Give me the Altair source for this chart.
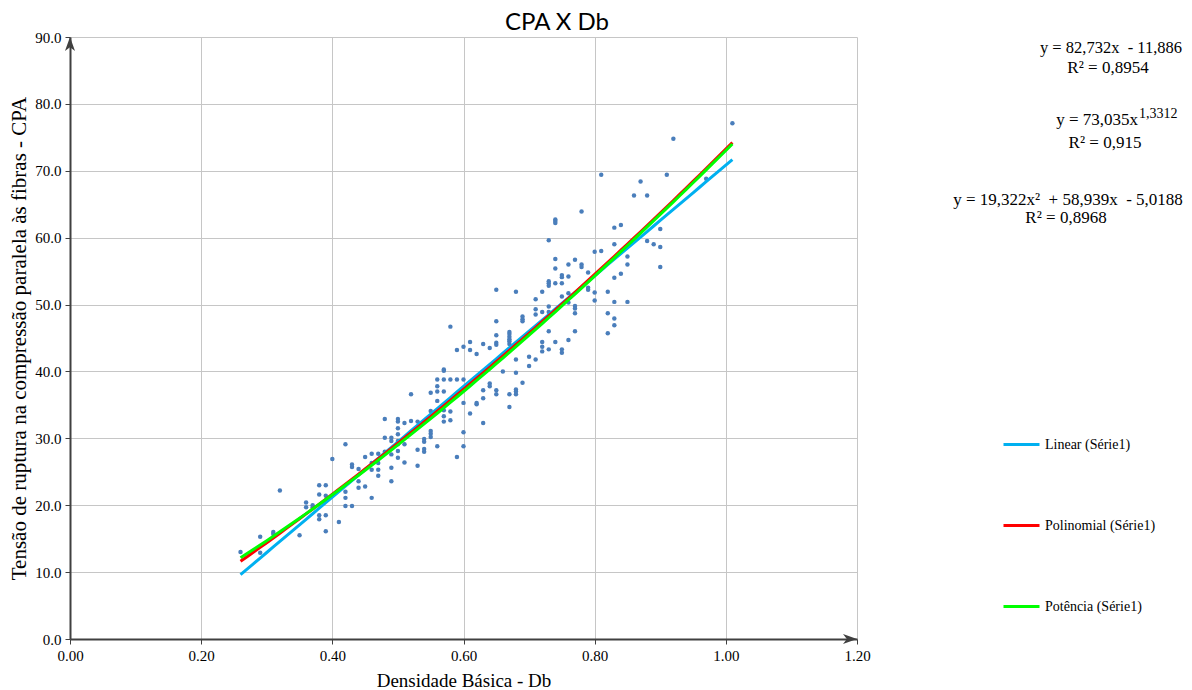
import altair as alt
import pandas as pd
import numpy as np

# ---------------- data ----------------
db_levels = [0.26, 0.29, 0.31, 0.32, 0.35, 0.36, 0.37, 0.38, 0.39, 0.40,
             0.41, 0.42, 0.43, 0.44, 0.45, 0.46, 0.47, 0.48, 0.49, 0.50,
             0.51, 0.52, 0.53, 0.54, 0.55, 0.56, 0.57, 0.58, 0.59, 0.60,
             0.61, 0.62, 0.63, 0.64, 0.65, 0.66, 0.67, 0.68, 0.69, 0.70,
             0.71, 0.72, 0.73, 0.74, 0.75, 0.76, 0.77, 0.78, 0.79, 0.80,
             0.81, 0.82, 0.83, 0.84, 0.85, 0.86, 0.87, 0.88, 0.89, 0.90,
             0.91, 0.92, 0.97, 1.01]

cpa_groups = [
    [13.0],
    [15.3, 12.9],
    [16.0, 15.7],
    [22.2],
    [15.5],
    [20.4, 19.7],
    [20.0, 19.7],
    [23.0, 21.6, 18.5, 17.9],
    [23.0, 21.4, 18.5, 16.1],
    [26.9],
    [17.5],
    [29.1, 22.0, 21.1, 19.9],
    [26.1, 25.7, 19.9],
    [25.4, 23.6, 22.6],
    [27.2, 22.8],
    [27.7, 26.3, 25.3, 21.1],
    [27.7, 26.3, 25.3, 24.4],
    [32.9, 30.1, 28.0],
    [30.1, 29.6, 27.6, 25.6, 23.6],
    [32.9, 32.5, 31.5, 30.6, 29.6, 29.1, 28.1, 27.1],
    [32.3, 29.1, 26.4],
    [36.6, 32.6],
    [32.5, 28.3, 25.9],
    [29.9, 29.5, 28.4, 28.0],
    [36.8, 34.1, 31.1, 30.7, 30.2],
    [38.8, 37.8, 37.0, 35.6, 28.8],
    [40.3, 40.1, 38.8, 37.0, 34.2, 33.3, 32.5],
    [46.7, 38.8, 34.0, 32.7],
    [43.2, 38.8, 27.2],
    [43.7, 38.8, 35.3, 30.9, 28.8],
    [44.4, 43.2, 33.7],
    [42.6, 35.3, 35.1],
    [44.1, 37.2, 36.0, 32.3],
    [43.5, 38.2, 37.8],
    [52.2, 47.5, 45.4, 44.3, 44.0, 37.2, 36.6],
    [40.0],
    [45.9, 45.6, 45.2, 44.8, 44.5, 44.1, 36.6, 34.7],
    [51.9, 41.8, 39.8, 37.3, 37.0, 36.6],
    [48.2, 47.8, 47.5, 38.3],
    [42.2, 40.8],
    [50.8, 49.3, 48.5, 41.8],
    [51.9, 48.9, 44.4, 43.7, 43.0],
    [59.6, 53.5, 53.2, 52.8, 49.7, 48.9, 46.0, 43.3],
    [62.7, 62.5, 62.2, 56.8, 55.4, 53.2, 44.4],
    [54.4, 54.1, 53.2, 51.2, 43.3, 42.8],
    [56.0, 54.2, 51.7, 50.3, 44.7],
    [56.7, 49.8, 49.4, 48.7, 46.0],
    [63.9, 56.0, 55.6],
    [54.8, 52.5, 52.2],
    [57.9, 51.8, 50.6],
    [69.4, 58.0],
    [51.9, 48.7, 45.7],
    [61.5, 59.0, 54.0, 50.4, 47.9, 46.9],
    [61.9, 54.6],
    [57.2, 56.0, 50.4],
    [66.3],
    [68.4],
    [66.3, 59.5],
    [59.0],
    [61.3, 58.6, 55.6],
    [69.4],
    [74.8],
    [68.8],
    [77.1],
]

series_names = ["Linear (Série1)", "Polinomial (Série1)", "Potência (Série1)"]
series_colors = ["#00B0F0", "#FF0000", "#00FF00"]

lin_coef = (82.732, -11.886)            # y = a x + b
poly_coef = (19.322, 58.939, -5.0188)   # y = a x^2 + b x + c
pow_coef = (73.035, 1.3312)             # y = a x^b
trend_x = [round(v, 2) for v in np.arange(0.26, 1.0101, 0.01)]

x_ticks = [0.0, 0.2, 0.4, 0.6, 0.8, 1.0, 1.2]
y_ticks = [0, 10, 20, 30, 40, 50, 60, 70, 80, 90]

title_text = "CPA X Db"
x_title = "Densidade Básica - Db"
y_title = "Tensão de ruptura na compressão paralela às fibras - CPA"

eq_lin = "y = 82,732x\u00a0 - 11,886"
r2_lin = "R² = 0,8954"
eq_pow_base = "y = 73,035x"
eq_pow_exp = "1,3312"
r2_pow = "R² = 0,915"
eq_poly = "y = 19,322x²\u00a0 + 58,939x\u00a0 - 5,0188"
r2_poly = "R² = 0,8968"

# ---------------- tables ----------------
scatter_df = pd.DataFrame(
    [{"Db": x, "CPA": y} for x, ys in zip(db_levels, cpa_groups) for y in ys]
)
tx = np.array(trend_x)
lin_df = pd.DataFrame({"Db": tx, "CPA": lin_coef[0] * tx + lin_coef[1], "serie": series_names[0]})
poly_df = pd.DataFrame({"Db": tx, "CPA": poly_coef[0] * tx ** 2 + poly_coef[1] * tx + poly_coef[2], "serie": series_names[1]})
pow_df = pd.DataFrame({"Db": tx, "CPA": pow_coef[0] * tx ** pow_coef[1], "serie": series_names[2]})

SERIF = "Liberation Serif"
W, H = 787, 602

xscale = alt.Scale(domain=[0, 1.2], nice=False, zero=False)
yscale = alt.Scale(domain=[0, 90], nice=False)

x_axis = alt.Axis(values=x_ticks, format=".2f", title=x_title, labelFlush=False,
                  labelOverlap=False, tickSize=5, labelPadding=4, titlePadding=8,
                  labelFontSize=15, titleFontSize=19)
y_axis = alt.Axis(values=y_ticks, format=".1f", title=y_title, labelFlush=False,
                  labelOverlap=False, tickSize=5, labelPadding=4, titlePadding=5,
                  labelFontSize=15, titleFontSize=21)

color_scale = alt.Scale(domain=series_names, range=series_colors)
legend = alt.Legend(title=None, orient="none", legendX=932, legendY=388,
                    symbolType="stroke", symbolSize=1296, symbolStrokeWidth=3,
                    labelFont=SERIF, labelFontSize=14, labelColor="black",
                    rowPadding=54, labelOffset=4, padding=0)

points = alt.Chart(scatter_df).mark_circle(size=20, color="#4A7EBB", opacity=1).encode(
    x=alt.X("Db:Q", scale=xscale, axis=x_axis),
    y=alt.Y("CPA:Q", scale=yscale, axis=y_axis),
)


def trend_layer(df):
    return alt.Chart(df).mark_line(strokeWidth=3).encode(
        x=alt.X("Db:Q", scale=xscale),
        y=alt.Y("CPA:Q", scale=yscale),
        color=alt.Color("serie:N", scale=color_scale, legend=legend),
    )


up_arrow = alt.Chart(pd.DataFrame({"a": [0]})).mark_point(
    shape="M0,0L0.72,2L0,1.45L-0.72,2Z", size=196, filled=True,
    color="#404040", opacity=1, strokeWidth=0
).encode(x=alt.value(0), y=alt.value(0))

right_arrow = alt.Chart(pd.DataFrame({"a": [0]})).mark_point(
    shape="M0,0L-2,-0.72L-1.45,0L-2,0.72Z", size=196, filled=True,
    color="#404040", opacity=1, strokeWidth=0
).encode(x=alt.value(W), y=alt.value(H))


def label(text, px, py, size=17, align="center", font=SERIF):
    return alt.Chart(pd.DataFrame({"t": [text]})).mark_text(
        font=font, fontSize=size, align=align, baseline="alphabetic", color="black"
    ).encode(text="t:N", x=alt.value(px), y=alt.value(py))


texts = [
    label(title_text, 487, -7, size=24, font="Lato"),
    label(eq_lin, 1041, 16, size=16.5),
    label(r2_lin, 1038, 36),
    label(eq_pow_base, 1068, 88, align="right"),
    label(eq_pow_exp, 1069, 81, size=14, align="left"),
    label(r2_pow, 1035, 111),
    label(eq_poly, 998, 168),
    label(r2_poly, 996, 186),
]

chart = alt.layer(
    points, trend_layer(lin_df), trend_layer(poly_df), trend_layer(pow_df),
    up_arrow, right_arrow, *texts
).properties(
    width=W, height=H,
    autosize=alt.AutoSizeParams(type="none"),
    padding={"left": 70, "top": 37, "right": 335, "bottom": 51},
    background="white",
).configure_axis(
    labelFont=SERIF, titleFont=SERIF, labelColor="black", titleColor="black",
    titleFontWeight="normal", domainColor="#404040", domainWidth=2,
    tickColor="#404040", tickWidth=1, gridColor="#C6C6C6", gridWidth=1,
).configure_view(strokeOpacity=0)

chart.save("out.html", embed_options={"renderer": "svg", "actions": False})
